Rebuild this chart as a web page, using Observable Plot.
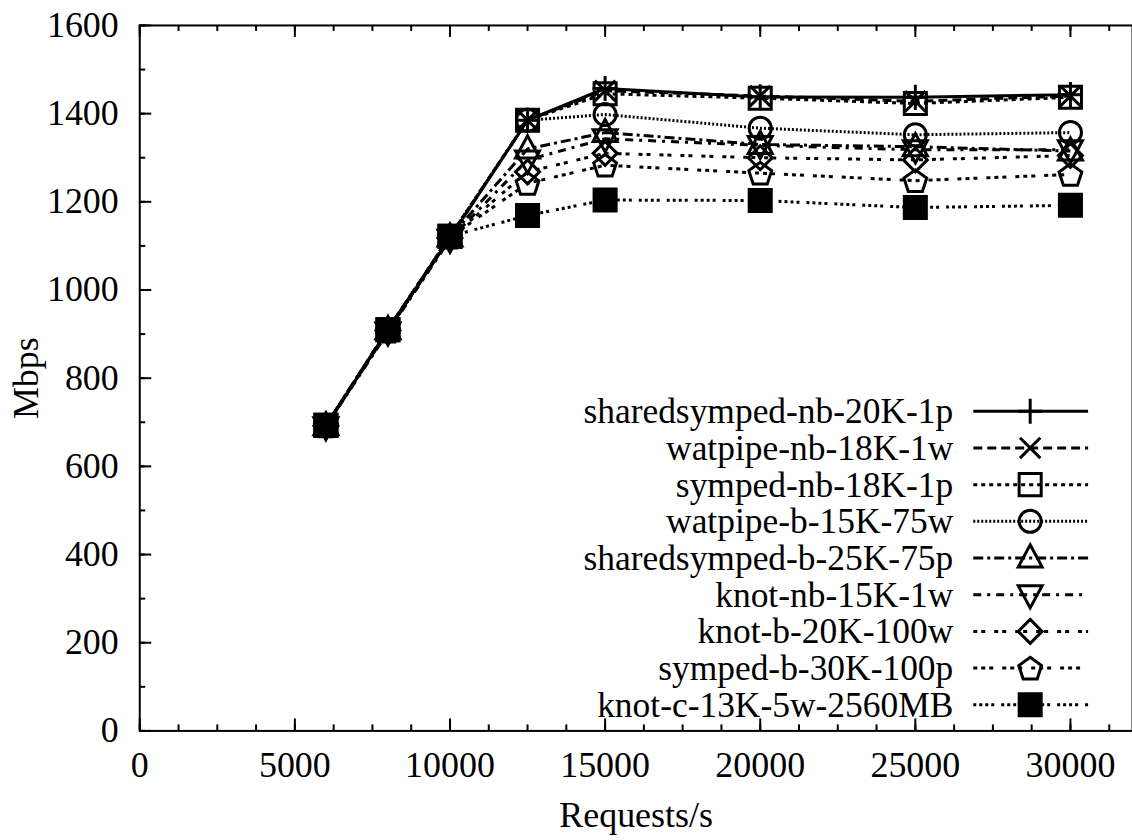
<!DOCTYPE html>
<html><head><meta charset="utf-8">
<script src="https://cdn.jsdelivr.net/npm/d3@7"></script>
<script src="https://cdn.jsdelivr.net/npm/@observablehq/plot@0.6"></script>
<style>html,body{margin:0;padding:0;overflow:hidden;background:#fff}</style>
</head><body><div id="chart"></div>
<script>
// ---- data ----
const requests = [6000, 8000, 10000, 12500, 15000, 20000, 25000, 30000];
const seriesNames = [
  "sharedsymped-nb-20K-1p", "watpipe-nb-18K-1w", "symped-nb-18K-1p",
  "watpipe-b-15K-75w", "sharedsymped-b-25K-75p", "knot-nb-15K-1w",
  "knot-b-20K-100w", "symped-b-30K-100p", "knot-c-13K-5w-2560MB"
];
const sharedsympedNb = [690, 910, 1118, 1385, 1457, 1438, 1437, 1443];
const watpipeNb      = [692, 912, 1120, 1385, 1452, 1440, 1428, 1440];
const sympedNb       = [693, 910, 1122, 1385, 1445, 1435, 1423, 1437];
const watpipeB       = [693, 908, 1122, 1385, 1398, 1367, 1352, 1357];
const sharedsympedB  = [692, 910, 1120, 1320, 1357, 1330, 1325, 1315];
const knotNb         = [690, 905, 1115, 1295, 1343, 1328, 1318, 1318];
const knotB          = [692, 908, 1118, 1268, 1310, 1300, 1295, 1305];
const sympedB        = [692, 907, 1120, 1242, 1283, 1265, 1248, 1262];
const knotC          = [693, 910, 1122, 1169, 1204, 1203, 1187, 1192];
const seriesValues = [sharedsympedNb, watpipeNb, sympedNb, watpipeB, sharedsympedB, knotNb, knotB, sympedB, knotC];

const xTicks = [0, 5000, 10000, 15000, 20000, 25000, 30000];
const yTicks = [0, 200, 400, 600, 800, 1000, 1200, 1400, 1600];
const xMinor = d3.range(0, 32001, 1250);
const yMinor = d3.range(0, 1601, 100);

// ---- symbols ----
function sym(drawFn) { return {draw(ctx, size) { drawFn(ctx, Math.sqrt(size / Math.PI)); }}; }
const symPlus = sym((c, h) => { h *= 1.05; c.moveTo(-h, 0); c.lineTo(h, 0); c.moveTo(0, -h); c.lineTo(0, h); });
const symTimes = sym((c, h) => { h *= 0.85; c.moveTo(-h, -h); c.lineTo(h, h); c.moveTo(-h, h); c.lineTo(h, -h); });
const symSquare = sym((c, h) => { h *= 0.92; c.moveTo(-h, -h); c.lineTo(h, -h); c.lineTo(h, h); c.lineTo(-h, h); c.closePath(); });
const symCircle = sym((c, h) => { h *= 0.92; c.moveTo(h, 0); c.arc(0, 0, h, 0, 2 * Math.PI); });
const symTri = sym((c, h) => { c.moveTo(0, -1.1 * h); c.lineTo(h, 0.75 * h); c.lineTo(-h, 0.75 * h); c.closePath(); });
const symTriDown = sym((c, h) => { c.moveTo(0, 1.1 * h); c.lineTo(h, -0.75 * h); c.lineTo(-h, -0.75 * h); c.closePath(); });
const symDiamond = sym((c, h) => { c.moveTo(0, -h); c.lineTo(h, 0); c.lineTo(0, h); c.lineTo(-h, 0); c.closePath(); });
const symPentagon = sym((c, h) => {
  for (let i = 0; i < 5; i++) {
    const a = -Math.PI / 2 + i * 2 * Math.PI / 5;
    const px = h * Math.cos(a), py = h * Math.sin(a) + 0.1 * h;
    if (i === 0) c.moveTo(px, py); else c.lineTo(px, py);
  }
  c.closePath();
});
const seriesSymbols = [symPlus, symTimes, symSquare, symCircle, symTri, symTriDown, symDiamond, symPentagon, symSquare];
const seriesFills = ["none", "none", "none", "none", "none", "none", "none", "none", "black"];
const seriesDash = [null, "9,5", "4,4", "2,2", "10,4,3,4", "8,6,3,6", "4,4,4,9", "4,4,4,4,4,9", "3,3,3,3,3,3,3,7"];

// ---- layout ----
const W = 1134, H = 840, mL = 139.5, mT = 25, mB = 108.3, mR = 0;
const frameH = H - mT - mB, frameW = W - mL - mR;
const R = 12;
const FONT = '"Liberation Serif", "Times New Roman", serif';

const marks = [];
marks.push(Plot.frame({stroke: "black", strokeWidth: 2}));
marks.push(Plot.tickX(xTicks, {x: d => d, insetTop: frameH - 12, stroke: "black", strokeWidth: 2}));
marks.push(Plot.tickX(xTicks, {x: d => d, insetBottom: frameH - 12, stroke: "black", strokeWidth: 2}));
marks.push(Plot.tickX(xMinor, {x: d => d, insetTop: frameH - 6, stroke: "black", strokeWidth: 2}));
marks.push(Plot.tickX(xMinor, {x: d => d, insetBottom: frameH - 6, stroke: "black", strokeWidth: 2}));
marks.push(Plot.tickY(yTicks, {y: d => d, insetRight: frameW - 12, stroke: "black", strokeWidth: 2}));
marks.push(Plot.tickY(yMinor, {y: d => d, insetRight: frameW - 6, stroke: "black", strokeWidth: 2}));
marks.push(Plot.axisX({ticks: xTicks, tickSize: 0, tickPadding: 21, tickFormat: d => String(d), fontSize: 36,
  label: "Requests/s", labelAnchor: "center", labelOffset: 96, labelArrow: false}));
marks.push(Plot.axisY({ticks: yTicks, tickSize: 0, tickPadding: 21, tickFormat: d => String(d), fontSize: 36,
  label: "Mbps", labelAnchor: "center", labelOffset: 127, labelArrow: false}));

seriesNames.forEach((name, i) => {
  const rows = requests.map((r, j) => ({x: r, y: seriesValues[i][j]}));
  marks.push(Plot.line(rows, {x: "x", y: "y", stroke: "black", strokeWidth: 3,
    strokeDasharray: seriesDash[i] || undefined, strokeLinecap: "butt", strokeLinejoin: "miter"}));
  marks.push(Plot.dot(rows, {x: "x", y: "y", symbol: seriesSymbols[i], r: R, stroke: "black",
    strokeWidth: 3, fill: seriesFills[i]}));
});

const chart = Plot.plot({
  width: W, height: H,
  marginLeft: mL, marginRight: mR, marginTop: mT, marginBottom: mB,
  x: {domain: [0, 32000]},
  y: {domain: [0, 1600]},
  style: {fontFamily: FONT, fontSize: "36px", color: "black", background: "white", overflow: "visible"},
  marks
});
document.getElementById("chart").appendChild(chart);

// ---- legend (inside plot, right side) ----
const svg = d3.select(chart);
const lg = svg.append("g").attr("class", "legend");
const rowY0 = 412, rowDy = 36.75, textX = 955, lineX1 = 975, lineX2 = 1090, symX = 1032;
seriesNames.forEach((name, i) => {
  const y = rowY0 + i * rowDy;
  lg.append("text").attr("x", textX).attr("y", y).attr("dy", "0.34em")
    .attr("text-anchor", "end").attr("fill", "black")
    .attr("font-family", FONT).attr("font-size", 35.5)
    .text(name);
  lg.append("line").attr("x1", lineX1).attr("x2", lineX2).attr("y1", y).attr("y2", y)
    .attr("stroke", "black").attr("stroke-width", 3)
    .attr("stroke-dasharray", seriesDash[i]);
  lg.append("path").attr("transform", `translate(${symX},${y})`)
    .attr("d", d3.symbol(seriesSymbols[i], Math.PI * R * R)())
    .attr("stroke", "black").attr("stroke-width", 3).attr("fill", seriesFills[i]);
});
</script>
</body></html>
